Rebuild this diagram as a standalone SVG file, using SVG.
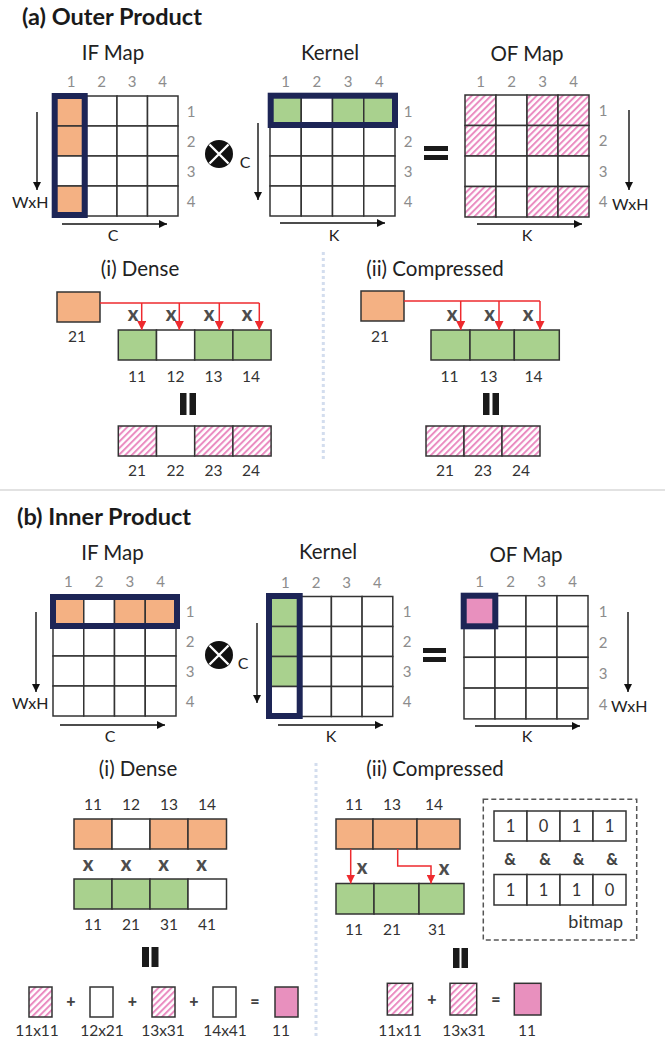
<svg xmlns="http://www.w3.org/2000/svg" width="665" height="1038" viewBox="0 0 665 1038">
<defs>
  <pattern id="hatch" patternUnits="userSpaceOnUse" width="4.6" height="4.6" patternTransform="rotate(45)">
    <rect width="4.6" height="4.6" fill="#fff"/>
    <rect width="2" height="4.6" fill="#ea8cc1"/>
  </pattern>
  <marker id="ah" viewBox="0 0 10 10" refX="10" refY="5" markerWidth="9" markerHeight="8" markerUnits="userSpaceOnUse" orient="auto">
    <path d="M0,0 L10,5 L0,10 Z" fill="#111"/>
  </marker>
  <marker id="rh" viewBox="0 0 10 10" refX="10" refY="5" markerWidth="9" markerHeight="9" markerUnits="userSpaceOnUse" orient="auto">
    <path d="M0,0 L10,5 L0,10 Z" fill="#ee2a2e"/>
  </marker>
  <style>
    text { font-family: Lato, "Liberation Sans", sans-serif; }
    .t { font-size: 23.5px; font-weight: 700; fill: #1a1a1a; }
    .hd { font-size: 20.5px; fill: #222; text-anchor: middle; }
    .n { font-size: 15px; fill: #8c8c8c; text-anchor: middle; }
    .ax { font-size: 16px; fill: #222; }
    .axm { font-size: 16px; fill: #222; text-anchor: middle; }
    .l { font-size: 15.5px; fill: #333; text-anchor: middle; }
    .bm { font-size: 16.5px; fill: #333; text-anchor: middle; }
    .x { font-size: 20px; font-weight: 900; fill: #4d4d4d; text-anchor: middle; }
    .op { font-size: 16px; font-weight: 900; fill: #444; text-anchor: middle; }
    .c { fill: #fff; stroke: #333; stroke-width: 1.5; }
    .o { fill: #f4b183; stroke: #333; stroke-width: 1.5; }
    .g { fill: #a9d18e; stroke: #333; stroke-width: 1.5; }
    .h { fill: url(#hatch); stroke: #333; stroke-width: 1.5; }
    .p { fill: #e890be; stroke: #333; stroke-width: 1.5; }
    .sel { fill: none; stroke: #1d2556; stroke-width: 6; }
    .arr { stroke: #111; stroke-width: 1.4; fill: none; marker-end: url(#ah); }
    .red { stroke: #ee2a2e; stroke-width: 1.5; fill: none; marker-end: url(#rh); }
    .red0 { stroke: #ee2a2e; stroke-width: 1.5; fill: none; }
    .bar { fill: #1a1a1a; }
    .dot { stroke: #d3ddee; stroke-width: 3; stroke-dasharray: 3 3; fill: none; }
  </style>
</defs>

<!-- ===================== (a) Outer Product ===================== -->
<text class="t" x="22" y="25">(a) Outer Product</text>

<g id="a-if-map">
  <text class="hd" x="113" y="60">IF Map</text>
  <text class="n" x="71" y="87">1</text><text class="n" x="101.5" y="87">2</text><text class="n" x="132" y="87">3</text><text class="n" x="162.5" y="87">4</text>
  <rect class="o" x="56" y="96" width="30.5" height="30"/><rect class="c" x="86.5" y="96" width="30.5" height="30"/><rect class="c" x="117" y="96" width="30.5" height="30"/><rect class="c" x="147.5" y="96" width="30.5" height="30"/>
  <rect class="o" x="56" y="126" width="30.5" height="30"/><rect class="c" x="86.5" y="126" width="30.5" height="30"/><rect class="c" x="117" y="126" width="30.5" height="30"/><rect class="c" x="147.5" y="126" width="30.5" height="30"/>
  <rect class="c" x="56" y="156" width="30.5" height="30"/><rect class="c" x="86.5" y="156" width="30.5" height="30"/><rect class="c" x="117" y="156" width="30.5" height="30"/><rect class="c" x="147.5" y="156" width="30.5" height="30"/>
  <rect class="o" x="56" y="186" width="30.5" height="30"/><rect class="c" x="86.5" y="186" width="30.5" height="30"/><rect class="c" x="117" y="186" width="30.5" height="30"/><rect class="c" x="147.5" y="186" width="30.5" height="30"/>
  <rect class="sel" x="54.7" y="96" width="30" height="119"/>
  <text class="n" x="191" y="116.5">1</text><text class="n" x="191" y="146.5">2</text><text class="n" x="191" y="176.5">3</text><text class="n" x="191" y="206.5">4</text>
  <line class="arr" x1="37" y1="112" x2="37" y2="190"/>
  <text class="ax" x="12" y="208">WxH</text>
  <line class="arr" x1="62" y1="224" x2="167" y2="224"/>
  <text class="axm" x="113" y="241">C</text>
</g>

<g id="a-otimes">
  <circle cx="219" cy="154" r="14" fill="#111"/>
  <path d="M209.5,144.5 L228.5,163.5 M228.5,144.5 L209.5,163.5" stroke="#fff" stroke-width="2.4"/>
</g>

<g id="a-kernel">
  <text class="hd" x="330" y="60">Kernel</text>
  <text class="n" x="285.6" y="87">1</text><text class="n" x="316.9" y="87">2</text><text class="n" x="348.1" y="87">3</text><text class="n" x="379.4" y="87">4</text>
  <rect class="g" x="270" y="96" width="31.25" height="30"/><rect class="c" x="301.25" y="96" width="31.25" height="30"/><rect class="g" x="332.5" y="96" width="31.25" height="30"/><rect class="g" x="363.75" y="96" width="31.25" height="30"/>
  <rect class="c" x="270" y="126" width="31.25" height="30"/><rect class="c" x="301.25" y="126" width="31.25" height="30"/><rect class="c" x="332.5" y="126" width="31.25" height="30"/><rect class="c" x="363.75" y="126" width="31.25" height="30"/>
  <rect class="c" x="270" y="156" width="31.25" height="30"/><rect class="c" x="301.25" y="156" width="31.25" height="30"/><rect class="c" x="332.5" y="156" width="31.25" height="30"/><rect class="c" x="363.75" y="156" width="31.25" height="30"/>
  <rect class="c" x="270" y="186" width="31.25" height="30"/><rect class="c" x="301.25" y="186" width="31.25" height="30"/><rect class="c" x="332.5" y="186" width="31.25" height="30"/><rect class="c" x="363.75" y="186" width="31.25" height="30"/>
  <rect class="sel" x="270.7" y="95.7" width="124.3" height="29.3"/>
  <text class="n" x="408" y="116.5">1</text><text class="n" x="408" y="146.5">2</text><text class="n" x="408" y="176.5">3</text><text class="n" x="408" y="206.5">4</text>
  <line class="arr" x1="258" y1="123" x2="258" y2="200"/>
  <text class="axm" x="245" y="168">C</text>
  <line class="arr" x1="280" y1="223" x2="385" y2="223"/>
  <text class="axm" x="334" y="241">K</text>
</g>

<g id="a-equals">
  <rect class="bar" x="424" y="146" width="24" height="5"/>
  <rect class="bar" x="424" y="155" width="24" height="5"/>
</g>

<g id="a-of-map">
  <text class="hd" x="527" y="61">OF Map</text>
  <text class="n" x="480.5" y="87">1</text><text class="n" x="511.5" y="87">2</text><text class="n" x="542.5" y="87">3</text><text class="n" x="573.5" y="87">4</text>
  <rect class="h" x="465" y="95" width="31" height="30.5"/><rect class="c" x="496" y="95" width="31" height="30.5"/><rect class="h" x="527" y="95" width="31" height="30.5"/><rect class="h" x="558" y="95" width="31" height="30.5"/>
  <rect class="h" x="465" y="125.5" width="31" height="30.5"/><rect class="c" x="496" y="125.5" width="31" height="30.5"/><rect class="h" x="527" y="125.5" width="31" height="30.5"/><rect class="h" x="558" y="125.5" width="31" height="30.5"/>
  <rect class="c" x="465" y="156" width="31" height="30.5"/><rect class="c" x="496" y="156" width="31" height="30.5"/><rect class="c" x="527" y="156" width="31" height="30.5"/><rect class="c" x="558" y="156" width="31" height="30.5"/>
  <rect class="h" x="465" y="186.5" width="31" height="30.5"/><rect class="c" x="496" y="186.5" width="31" height="30.5"/><rect class="h" x="527" y="186.5" width="31" height="30.5"/><rect class="h" x="558" y="186.5" width="31" height="30.5"/>
  <text class="n" x="603" y="115.5">1</text><text class="n" x="603" y="146">2</text><text class="n" x="603" y="176.5">3</text><text class="n" x="603" y="207">4</text>
  <line class="arr" x1="629" y1="110" x2="629" y2="190"/>
  <text class="ax" x="612" y="210">WxH</text>
  <line class="arr" x1="477" y1="224" x2="582" y2="224"/>
  <text class="axm" x="527" y="241">K</text>
</g>

<!-- (a)(i) dense -->
<g id="a-dense">
  <text class="hd" x="140" y="276">(i) Dense</text>
  <rect class="o" x="57" y="292" width="43" height="30"/>
  <text class="l" x="77" y="342">21</text>
  <rect class="g" x="118.3" y="330" width="38.2" height="30"/><rect class="c" x="156.5" y="330" width="38.2" height="30"/><rect class="g" x="194.7" y="330" width="38.2" height="30"/><rect class="g" x="232.9" y="330" width="38.2" height="30"/>
  <text class="l" x="137" y="382">11</text><text class="l" x="175.5" y="382">12</text><text class="l" x="213.5" y="382">13</text><text class="l" x="251" y="382">14</text>
  <text class="x" x="133" y="321">x</text><text class="x" x="171" y="321">x</text><text class="x" x="209" y="321">x</text><text class="x" x="247" y="321">x</text>
  <rect class="bar" x="180" y="393" width="6.5" height="22"/><rect class="bar" x="189.5" y="393" width="6.5" height="22"/>
  <rect class="h" x="118.3" y="426" width="38.2" height="30"/><rect class="c" x="156.5" y="426" width="38.2" height="30"/><rect class="h" x="194.7" y="426" width="38.2" height="30"/><rect class="h" x="232.9" y="426" width="38.2" height="30"/>
  <text class="l" x="137" y="476">21</text><text class="l" x="175.5" y="476">22</text><text class="l" x="213.5" y="476">23</text><text class="l" x="251" y="476">24</text>
</g>

<!-- (a)(ii) compressed -->
<g id="a-compressed">
  <text class="hd" x="435" y="276">(ii) Compressed</text>
  <rect class="o" x="361" y="291" width="43" height="30"/>
  <text class="l" x="380" y="342">21</text>
  <rect class="g" x="431" y="330" width="39" height="30"/><rect class="g" x="470" y="330" width="44.3" height="30"/><rect class="g" x="514.3" y="330" width="45" height="30"/>
  <text class="l" x="449.5" y="382">11</text><text class="l" x="488.5" y="382">13</text><text class="l" x="533.5" y="382">14</text>
  <text class="x" x="452" y="321">x</text><text class="x" x="489.5" y="321">x</text><text class="x" x="528" y="321">x</text>
  <rect class="bar" x="483" y="393" width="6.5" height="22"/><rect class="bar" x="492.5" y="393" width="6.5" height="22"/>
  <rect class="h" x="426" y="426" width="38" height="30"/><rect class="h" x="464" y="426" width="38" height="30"/><rect class="h" x="502" y="426" width="38" height="30"/>
  <text class="l" x="445" y="476">21</text><text class="l" x="483" y="476">23</text><text class="l" x="521" y="476">24</text>
</g>

<!-- ===================== (b) Inner Product ===================== -->
<text class="t" x="17" y="525">(b) Inner Product</text>

<g id="b-if-map">
  <text class="hd" x="112.5" y="560">IF Map</text>
  <text class="n" x="68.4" y="587">1</text><text class="n" x="99.1" y="587">2</text><text class="n" x="129.9" y="587">3</text><text class="n" x="160.6" y="587">4</text>
  <rect class="o" x="53" y="596" width="30.75" height="30"/><rect class="c" x="83.75" y="596" width="30.75" height="30"/><rect class="o" x="114.5" y="596" width="30.75" height="30"/><rect class="o" x="145.25" y="596" width="30.75" height="30"/>
  <rect class="c" x="53" y="626" width="30.75" height="30"/><rect class="c" x="83.75" y="626" width="30.75" height="30"/><rect class="c" x="114.5" y="626" width="30.75" height="30"/><rect class="c" x="145.25" y="626" width="30.75" height="30"/>
  <rect class="c" x="53" y="656" width="30.75" height="30"/><rect class="c" x="83.75" y="656" width="30.75" height="30"/><rect class="c" x="114.5" y="656" width="30.75" height="30"/><rect class="c" x="145.25" y="656" width="30.75" height="30"/>
  <rect class="c" x="53" y="686" width="30.75" height="30"/><rect class="c" x="83.75" y="686" width="30.75" height="30"/><rect class="c" x="114.5" y="686" width="30.75" height="30"/><rect class="c" x="145.25" y="686" width="30.75" height="30"/>
  <rect class="sel" x="53" y="597" width="124" height="29"/>
  <text class="n" x="190" y="617">1</text><text class="n" x="190" y="647">2</text><text class="n" x="190" y="677">3</text><text class="n" x="190" y="706.5">4</text>
  <line class="arr" x1="36" y1="612" x2="36" y2="692"/>
  <text class="ax" x="12" y="709">WxH</text>
  <line class="arr" x1="60" y1="725" x2="165" y2="725"/>
  <text class="axm" x="110" y="742">C</text>
</g>

<g id="b-otimes">
  <circle cx="219" cy="655" r="14" fill="#111"/>
  <path d="M209.5,645.5 L228.5,664.5 M228.5,645.5 L209.5,664.5" stroke="#fff" stroke-width="2.4"/>
</g>

<g id="b-kernel">
  <text class="hd" x="328" y="559">Kernel</text>
  <text class="n" x="285.3" y="588">1</text><text class="n" x="316" y="588">2</text><text class="n" x="346.7" y="588">3</text><text class="n" x="377.4" y="588">4</text>
  <rect class="g" x="270" y="596.5" width="30.7" height="30"/><rect class="c" x="300.7" y="596.5" width="30.7" height="30"/><rect class="c" x="331.4" y="596.5" width="30.7" height="30"/><rect class="c" x="362.1" y="596.5" width="30.7" height="30"/>
  <rect class="g" x="270" y="626.5" width="30.7" height="30"/><rect class="c" x="300.7" y="626.5" width="30.7" height="30"/><rect class="c" x="331.4" y="626.5" width="30.7" height="30"/><rect class="c" x="362.1" y="626.5" width="30.7" height="30"/>
  <rect class="g" x="270" y="656.5" width="30.7" height="30"/><rect class="c" x="300.7" y="656.5" width="30.7" height="30"/><rect class="c" x="331.4" y="656.5" width="30.7" height="30"/><rect class="c" x="362.1" y="656.5" width="30.7" height="30"/>
  <rect class="c" x="270" y="686.5" width="30.7" height="30"/><rect class="c" x="300.7" y="686.5" width="30.7" height="30"/><rect class="c" x="331.4" y="686.5" width="30.7" height="30"/><rect class="c" x="362.1" y="686.5" width="30.7" height="30"/>
  <rect class="sel" x="269" y="596" width="30.7" height="120"/>
  <text class="n" x="407" y="617">1</text><text class="n" x="407" y="647">2</text><text class="n" x="407" y="677">3</text><text class="n" x="407" y="707">4</text>
  <line class="arr" x1="257" y1="623" x2="257" y2="703"/>
  <text class="axm" x="243" y="668.5">C</text>
  <line class="arr" x1="278" y1="725" x2="383" y2="725"/>
  <text class="axm" x="331" y="742">K</text>
</g>

<g id="b-equals">
  <rect class="bar" x="423" y="648" width="23" height="5"/>
  <rect class="bar" x="423" y="657" width="23" height="5"/>
</g>

<g id="b-of-map">
  <text class="hd" x="526" y="562">OF Map</text>
  <text class="n" x="479.5" y="587">1</text><text class="n" x="510.5" y="587">2</text><text class="n" x="541.5" y="587">3</text><text class="n" x="572.5" y="587">4</text>
  <rect class="p" x="464" y="595.7" width="31" height="30.8"/><rect class="c" x="495" y="595.7" width="31" height="30.8"/><rect class="c" x="526" y="595.7" width="31" height="30.8"/><rect class="c" x="557" y="595.7" width="31" height="30.8"/>
  <rect class="c" x="464" y="626.5" width="31" height="30.8"/><rect class="c" x="495" y="626.5" width="31" height="30.8"/><rect class="c" x="526" y="626.5" width="31" height="30.8"/><rect class="c" x="557" y="626.5" width="31" height="30.8"/>
  <rect class="c" x="464" y="657.3" width="31" height="30.8"/><rect class="c" x="495" y="657.3" width="31" height="30.8"/><rect class="c" x="526" y="657.3" width="31" height="30.8"/><rect class="c" x="557" y="657.3" width="31" height="30.8"/>
  <rect class="c" x="464" y="688.1" width="31" height="30.8"/><rect class="c" x="495" y="688.1" width="31" height="30.8"/><rect class="c" x="526" y="688.1" width="31" height="30.8"/><rect class="c" x="557" y="688.1" width="31" height="30.8"/>
  <rect class="sel" x="463.7" y="595.7" width="31.6" height="30.6"/>
  <text class="n" x="603" y="617">1</text><text class="n" x="603" y="648">2</text><text class="n" x="603" y="679">3</text><text class="n" x="603" y="709.5">4</text>
  <line class="arr" x1="628" y1="612" x2="628" y2="692"/>
  <text class="ax" x="611" y="712">WxH</text>
  <line class="arr" x1="475" y1="726" x2="580" y2="726"/>
  <text class="axm" x="527" y="742">K</text>
</g>

<!-- (b)(i) dense -->
<g id="b-dense">
  <text class="hd" x="138" y="776">(i) Dense</text>
  <text class="l" x="93" y="810">11</text><text class="l" x="131" y="810">12</text><text class="l" x="169" y="810">13</text><text class="l" x="207" y="810">14</text>
  <rect class="o" x="74" y="819" width="38" height="30"/><rect class="c" x="112" y="819" width="38" height="30"/><rect class="o" x="150" y="819" width="38" height="30"/><rect class="o" x="188" y="819" width="38.5" height="30"/>
  <text class="x" x="88" y="871">x</text><text class="x" x="126" y="871">x</text><text class="x" x="163.5" y="871">x</text><text class="x" x="201.5" y="871">x</text>
  <rect class="g" x="74" y="879" width="38" height="30"/><rect class="g" x="112" y="879" width="38" height="30"/><rect class="g" x="150" y="879" width="38" height="30"/><rect class="c" x="188" y="879" width="38.5" height="30"/>
  <text class="l" x="93" y="930">11</text><text class="l" x="131" y="930">21</text><text class="l" x="169" y="930">31</text><text class="l" x="207" y="930">41</text>
  <rect class="bar" x="142" y="947" width="7" height="20"/><rect class="bar" x="151.5" y="947" width="7" height="20"/>
  <rect class="h" x="29" y="987" width="23" height="30"/>
  <text class="op" x="71" y="1007">+</text>
  <rect class="c" x="90" y="987" width="23" height="30"/>
  <text class="op" x="132.5" y="1007">+</text>
  <rect class="h" x="152" y="987" width="23" height="30"/>
  <text class="op" x="194" y="1007">+</text>
  <rect class="c" x="213" y="987" width="23" height="30"/>
  <text class="op" x="255" y="1007">=</text>
  <rect class="p" x="275" y="987" width="23" height="30"/>
  <text class="l" x="37" y="1036">11x11</text><text class="l" x="102" y="1036">12x21</text><text class="l" x="163" y="1036">13x31</text><text class="l" x="225" y="1036">14x41</text><text class="l" x="281" y="1036">11</text>
</g>

<!-- (b)(ii) compressed -->
<g id="b-compressed">
  <text class="hd" x="435" y="776">(ii) Compressed</text>
  <text class="l" x="354" y="810">11</text><text class="l" x="392" y="810">13</text><text class="l" x="434" y="810">14</text>
  <rect class="o" x="336" y="819" width="37" height="30"/><rect class="o" x="373" y="819" width="44" height="30"/><rect class="o" x="417" y="819" width="43" height="30"/>
  <rect class="g" x="336" y="883.5" width="38" height="30.5"/><rect class="g" x="374" y="883.5" width="45" height="30.5"/><rect class="g" x="419" y="883.5" width="45" height="30.5"/>
  <text class="x" x="362" y="874">x</text><text class="x" x="444" y="875">x</text>
  <text class="l" x="354" y="935">11</text><text class="l" x="392" y="935">21</text><text class="l" x="437" y="935">31</text>
  <rect class="bar" x="453" y="948" width="6.5" height="20"/><rect class="bar" x="461.5" y="948" width="6.5" height="20"/>
  <rect class="h" x="387.3" y="983.3" width="25.4" height="31.7"/>
  <text class="op" x="432" y="1005">+</text>
  <rect class="h" x="450" y="983.3" width="26.7" height="31.7"/>
  <text class="op" x="496" y="1005">=</text>
  <rect class="p" x="514.3" y="983.3" width="26.7" height="31.7"/>
  <text class="l" x="400" y="1036">11x11</text><text class="l" x="464" y="1036">13x31</text><text class="l" x="527" y="1036">11</text>
</g>

<g id="b-bitmap">
  <rect x="483.3" y="799.3" width="153.4" height="140.7" fill="none" stroke="#555" stroke-width="1.5" stroke-dasharray="5 3"/>
  <rect class="c" x="494" y="811" width="33" height="30"/><rect class="c" x="527" y="811" width="33" height="30"/><rect class="c" x="560" y="811" width="33" height="30"/><rect class="c" x="593" y="811" width="33" height="30"/>
  <text class="bm" x="510.5" y="832">1</text><text class="bm" x="543.5" y="832">0</text><text class="bm" x="576.5" y="832">1</text><text class="bm" x="609.5" y="832">1</text>
  <text class="op" x="510" y="865">&amp;</text><text class="op" x="545" y="865">&amp;</text><text class="op" x="578.5" y="865">&amp;</text><text class="op" x="612" y="865">&amp;</text>
  <rect class="c" x="494" y="874.5" width="33" height="30.5"/><rect class="c" x="527" y="874.5" width="33" height="30.5"/><rect class="c" x="560" y="874.5" width="33" height="30.5"/><rect class="c" x="593" y="874.5" width="33" height="30.5"/>
  <text class="bm" x="510.5" y="896">1</text><text class="bm" x="543.5" y="896">1</text><text class="bm" x="576.5" y="896">1</text><text class="bm" x="609.5" y="896">0</text>
  <text class="bm" x="623" y="928" style="text-anchor:end;font-size:18px">bitmap</text>
</g>

<!-- connectors: red product arrows and section dividers -->
<g id="connectors">
  <path class="red0" d="M100,303 H259.3"/>
  <path class="red" d="M141.7,303 V330"/>
  <path class="red" d="M179.3,303 V330"/>
  <path class="red" d="M219.3,303 V330"/>
  <path class="red" d="M259.3,303 V330"/>
  <path class="red0" d="M404,301 H540"/>
  <path class="red" d="M460.7,301 V330"/>
  <path class="red" d="M499,301 V330"/>
  <path class="red" d="M540,301 V330"/>
  <path class="red" d="M350.7,849 V883.5"/>
  <path class="red" d="M397.7,849 V866 H431 V883.5"/>
  <line class="dot" x1="323.3" y1="252" x2="323.3" y2="461"/>
  <line class="dot" x1="316" y1="763" x2="316" y2="1038"/>
  <line x1="0" y1="490" x2="665" y2="490" stroke="#d9d9d9" stroke-width="1.5"/>
</g>
</svg>
